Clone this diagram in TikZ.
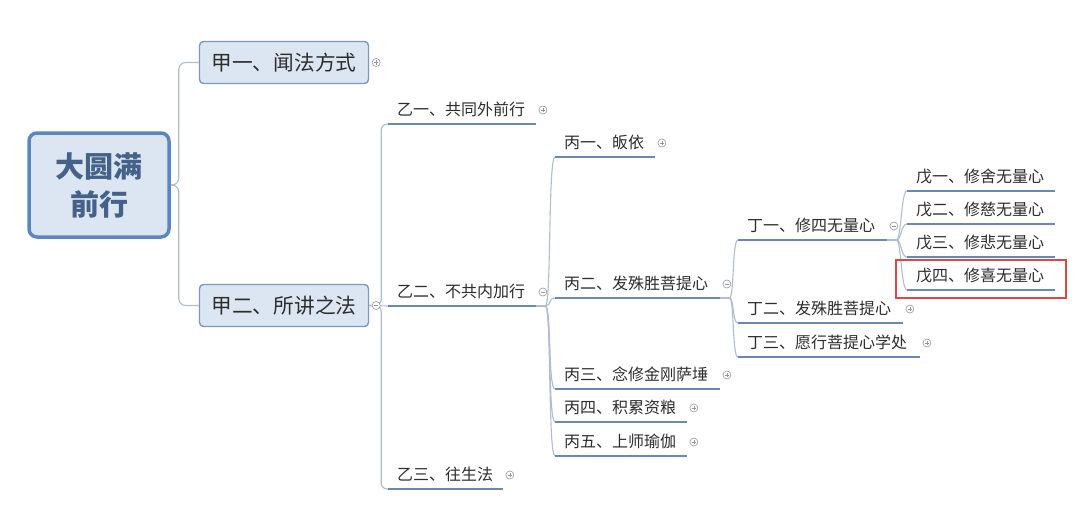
\documentclass[tikz,border=0pt]{standalone}
\usepackage{fontspec}
\setmainfont{Noto Sans CJK SC}
\usetikzlibrary{calc}
\definecolor{boxfill}{RGB}{220,230,242}
\definecolor{rootdraw}{RGB}{91,134,192}
\definecolor{jdraw}{RGB}{123,152,192}
\definecolor{uline}{RGB}{106,136,178}
\definecolor{conn}{RGB}{176,189,206}
\definecolor{txt}{RGB}{45,45,45}
\definecolor{roottxt}{RGB}{68,97,138}
\definecolor{hired}{RGB}{216,74,74}
\definecolor{icon}{RGB}{150,150,150}
\tikzset{
  rootbox/.style={draw=rootdraw, line width=3.5pt, fill=boxfill, rounded corners=8pt,
    minimum width=140pt, minimum height=104pt, align=center, text=roottxt,
    font=\fontsize{29}{38}\selectfont\bfseries},
  jbox/.style={draw=jdraw, line width=1.4pt, fill=boxfill, rounded corners=4pt,
    minimum width=169pt, minimum height=42pt, text=txt, font=\fontsize{20.7}{24}\selectfont},
  lbl/.style={anchor=south west, inner xsep=0pt, inner ysep=6pt, text height=12pt,
    text depth=2pt, align=left, text width=#1, text=txt, font=\fontsize{16}{18}\selectfont,
    execute at begin node={\hspace*{9pt}}},
  ul/.style={draw=uline, line width=2.4pt},
  cn/.style={draw=conn, line width=1.1pt},
  plusic/.style={circle, draw=icon, fill=white, minimum size=8pt, inner sep=0pt, line width=0.6pt,
    path picture={\draw[icon, line width=0.6pt]
      ([xshift=-2.2pt]path picture bounding box.center) -- ([xshift=2.2pt]path picture bounding box.center)
      ([yshift=-2.2pt]path picture bounding box.center) -- ([yshift=2.2pt]path picture bounding box.center);}},
  minusic/.style={circle, draw=icon, fill=white, minimum size=8pt, inner sep=0pt, line width=0.6pt,
    path picture={\draw[icon, line width=0.6pt]
      ([xshift=-2.2pt]path picture bounding box.center) -- ([xshift=2.2pt]path picture bounding box.center);}},
  hlbox/.style={draw=hired, line width=1.8pt, minimum width=170pt, minimum height=38pt, inner sep=0pt}
}
\begin{document}
\begin{tikzpicture}[x=1pt,y=-1pt]
\useasboundingbox[fill=white] (0,0) rectangle (1080,519);

% main nodes
\node[rootbox] (root) at (99,185) {大圆满\\前行};
\node[jbox] (j1) at (284,62.5) {甲一、闻法方式};
\node[jbox] (j2) at (284,305.5) {甲二、所讲之法};

\node[lbl=148pt] (y1) at (388,124) {乙一、共同外前行};
\node[lbl=148pt] (y2) at (388,306) {乙二、不共内加行};
\node[lbl=115pt] (y3) at (388,489) {乙三、往生法};

\node[lbl=100pt] (b1) at (555,157) {丙一、皈依};
\node[lbl=165pt] (b2) at (555,298) {丙二、发殊胜菩提心};
\node[lbl=165pt] (b3) at (555,389) {丙三、念修金刚萨埵};
\node[lbl=132pt] (b4) at (555,422) {丙四、积累资粮};
\node[lbl=132pt] (b5) at (555,456) {丙五、上师瑜伽};

\node[lbl=149pt] (d1) at (738,240) {丁一、修四无量心};
\node[lbl=165pt] (d2) at (738,323) {丁二、发殊胜菩提心};
\node[lbl=182pt] (d3) at (738,357) {丁三、愿行菩提心学处};

\node[lbl=148pt] (w1) at (907,191) {戊一、修舍无量心};
\node[lbl=148pt] (w2) at (907,224) {戊二、修慈无量心};
\node[lbl=148pt] (w3) at (907,257) {戊三、修悲无量心};
\node[lbl=148pt] (w4) at (907,290) {戊四、修喜无量心};

% connectors root -> jia
\draw[cn, rounded corners=7pt] (root.east) -- ++(8,0) |- (j1.west);
\draw[cn, rounded corners=7pt] (root.east) -- ++(8,0) |- (j2.west);

% jia2 -> yi
\draw[cn, rounded corners=6pt] (j2.east) -- ++(12,0) |- (y1.south west);
\draw[cn] (j2.east) -- (y2.south west);
\draw[cn, rounded corners=6pt] (j2.east) -- ++(12,0) |- (y3.south west);

% yi2 -> bing
\foreach \c in {b1,b2,b3,b4,b5}
  \draw[cn] (y2.south east) -- ++(9,0) .. controls +(6,0) and +(-7,0) .. (\c.south west);

% bing2 -> ding
\foreach \c in {d1,d2,d3}
  \draw[cn] (b2.south east) -- ++(9,0) .. controls +(5,0) and +(-6,0) .. (\c.south west);

% ding1 -> wu
\foreach \c in {w1,w2,w3,w4}
  \draw[cn] (d1.south east) -- ++(9,0) .. controls +(5,0) and +(-6,0) .. (\c.south west);

% underlines
\foreach \n in {y1,y2,y3,b1,b2,b3,b4,b5,d1,d2,d3,w1,w2,w3,w4}
  \draw[ul] (\n.south west) -- (\n.south east);

% highlight box
\node[hlbox] (hl) at (981,279) {};

% icons
\node[plusic] (i-j1) at ($(j1.east)+(7,0)$) {};
\node[minusic] (i-j2) at ($(j2.east)+(7,0)$) {};
\node[plusic] (i-y1) at ($(y1.south east)+(6.5,-14)$) {};
\node[minusic] (i-y2) at ($(y2.south east)+(6.5,-14)$) {};
\node[plusic] (i-y3) at ($(y3.south east)+(6.5,-14)$) {};
\node[plusic] (i-b1) at ($(b1.south east)+(6.5,-14)$) {};
\node[minusic] (i-b2) at ($(b2.south east)+(6.5,-14)$) {};
\node[plusic] (i-b3) at ($(b3.south east)+(6.5,-14)$) {};
\node[plusic] (i-b4) at ($(b4.south east)+(6.5,-14)$) {};
\node[plusic] (i-b5) at ($(b5.south east)+(6.5,-14)$) {};
\node[minusic] (i-d1) at ($(d1.south east)+(6.5,-14)$) {};
\node[plusic] (i-d2) at ($(d2.south east)+(6.5,-14)$) {};
\node[plusic] (i-d3) at ($(d3.south east)+(6.5,-14)$) {};
\end{tikzpicture}
\end{document}
